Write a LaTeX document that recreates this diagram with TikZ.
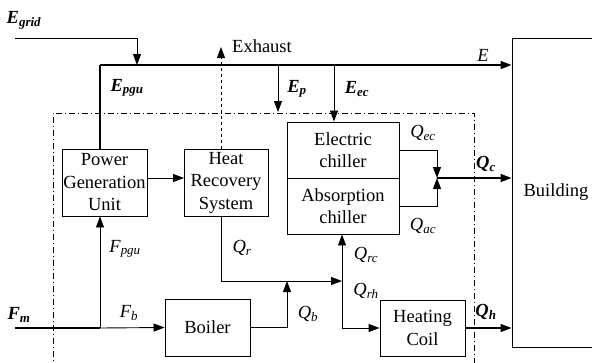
\documentclass[tikz,border=0pt]{standalone}
\usepackage{fontspec}
\setmainfont{Liberation Serif}
\usetikzlibrary{arrows.meta}

\newcommand{\sym}[2]{\textit{#1}\textsubscript{\textit{#2}}}
\newcommand{\bsym}[2]{\textbf{\sym{#1}{#2}}}

\tikzset{
  unit/.style={draw, rectangle, inner sep=0pt, align=center},
  bus/.style={line width=1.6pt},
  frame/.style={line width=0.8pt, dash pattern=on 6pt off 3pt on 1pt off 3pt}
}

\begin{document}
\begin{tikzpicture}[x=1pt, y=-1pt, >={Triangle[length=11pt,width=8pt]},
  font=\fontsize{18.5}{22.5}\selectfont, line width=0.9pt]
\useasboundingbox (0,0) rectangle (592,362);

% units
\node[unit, minimum width=85pt, minimum height=67pt] (pgu) at (104.5,182.5) {Power\\Generation\\Unit};
\node[unit, minimum width=84pt, minimum height=67pt] (hrs) at (226,182.5) {Heat\\Recovery\\System};
\node[unit, minimum width=112pt, minimum height=56pt] (ec) at (343,150) {Electric\\chiller};
\node[unit, minimum width=112pt, minimum height=56pt] (ac) at (343,206) {Absorption\\chiller};
\node[unit, minimum width=85pt, minimum height=57pt] (boiler) at (207.5,327.5) {Boiler};
\node[unit, minimum width=85pt, minimum height=56pt] (hc) at (422.5,328) {Heating\\Coil};
\node[unit, minimum width=88pt, minimum height=309pt] (bldg) at (556,192.5) {Building};

% system boundary
\draw[frame] (53,370) -- (53,113) -- (474,113) -- (474,370);

% electricity
\coordinate (grid) at (15,38);
\coordinate (gridin) at (137,65);
\coordinate (bus) at (100,65);
\coordinate (tapp) at (278,65);
\coordinate (framep) at (278,112);
\coordinate (tapec) at (334,65);
\coordinate (exh) at (221,47);
\draw[bus] (pgu.north -| bus) -- (bus);
\draw[bus,->] (bus) -- (bus -| bldg.west);
\draw[->] (grid) -| (gridin);
\draw[->] (tapp) -- (framep);
\draw[->] (tapec) -- (tapec |- ec.north);
\draw[dashed,->] (exh |- hrs.north) -- (exh);

% heat
\coordinate (pguout) at (147,178);
\coordinate (hrsin) at (184,178);
\draw[->] (pguout) -- (hrsin);
\coordinate (jn) at (437,178);
\draw[->] (ec.east) -| (jn);
\draw[->] (ac.east) -| (jn);
\draw[bus,->] (jn) -- (jn -| bldg.west);

% fuel
\coordinate (fin) at (15,328);
\coordinate (fsplit) at (100,328);
\draw[bus] (fin) -- (fsplit);
\draw[->] (fsplit) -- (boiler.west);
\draw[->] (fsplit) -- (fsplit |- pgu.south);

% recovered heat
\coordinate (qr) at (221,281);
\coordinate (qbin) at (287,281);
\coordinate (qm) at (342,281);
\draw[->] (qr |- hrs.south) -- (qr) -- (qm);
\draw[->] (boiler.east) -| (qbin);
\draw[->] (qm) -- (qm |- ac.south);
\draw[->] (qm) |- (hc.west);
\draw[bus,->] (hc.east) -- (hc.east -| bldg.west);

% labels
\node (lgrid) at (24,20) {\bsym{E}{grid}};
\node (lpgu) at (127,88) {\bsym{E}{pgu}};
\node (lexh) at (262,46) {Exhaust};
\node (le) at (483,55) {\textit{E}};
\node (lp) at (297,89) {\bsym{E}{p}};
\node (lec) at (357,89) {\bsym{E}{ec}};
\node (lqec) at (423,133) {\sym{Q}{ec}};
\node (lqac) at (423,226) {\sym{Q}{ac}};
\node (lqc) at (486,164) {\bsym{Q}{c}};
\node (lfpgu) at (125,249) {\sym{F}{pgu}};
\node (lqr) at (242,248) {\sym{Q}{r}};
\node (lfm) at (19,315) {\bsym{F}{m}};
\node (lfb) at (129,313) {\sym{F}{b}};
\node (lqb) at (308,314) {\sym{Q}{b}};
\node (lqrc) at (366,255) {\sym{Q}{rc}};
\node (lqrh) at (366,291) {\sym{Q}{rh}};
\node (lqh) at (486,312) {\bsym{Q}{h}};
\end{tikzpicture}
\end{document}
